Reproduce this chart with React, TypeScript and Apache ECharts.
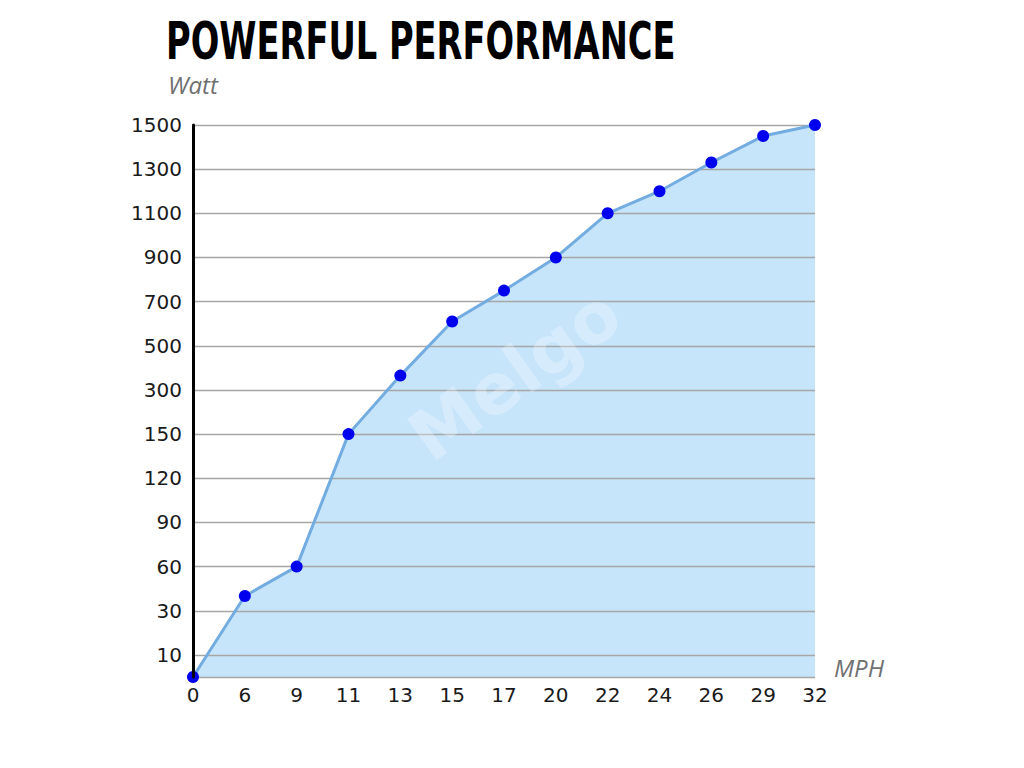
import React, { useEffect, useRef } from "react";
import * as echarts from "echarts";

const mphLabels = ["0", "6", "9", "11", "13", "15", "17", "20", "22", "24", "26", "29", "32"];
const wattValues = [0, 40, 60, 150, 365, 610, 750, 900, 1100, 1200, 1330, 1450, 1500];
const yTickLabels = [10, 30, 60, 90, 120, 150, 300, 500, 700, 900, 1100, 1300, 1500];

// piecewise-linear axis in half-steps: 0 at 0, labelled tick i at 2*i+1
function toAxisPos(w: number): number {
  if (w <= yTickLabels[0]) return (w / yTickLabels[0]) * 1;
  for (let i = 1; i < yTickLabels.length; i++) {
    if (w <= yTickLabels[i]) {
      return 2 * (i - 1) + 1 + (2 * (w - yTickLabels[i - 1])) / (yTickLabels[i] - yTickLabels[i - 1]);
    }
  }
  return 2 * (yTickLabels.length - 1) + 1;
}

export default function App() {
  const ref = useRef<HTMLDivElement>(null);
  useEffect(() => {
    if (!ref.current) return;
    const chart = echarts.init(ref.current, null, { renderer: "svg" });
    const gridLines = [{ yAxis: 0 }].concat(yTickLabels.map((_, i) => ({ yAxis: 2 * i + 1 })));
    const positions = wattValues.map((w) => toAxisPos(w));
    const option: any = {
      animation: false,
      backgroundColor: "#ffffff",
      grid: { left: 193, right: 209, top: 125, bottom: 91 },
      xAxis: {
        type: "category",
        boundaryGap: false,
        data: mphLabels,
        axisLine: { show: false },
        axisTick: { show: false },
        axisLabel: {
          margin: 8,
          color: "#1a1a1a",
          fontSize: 20,
          fontFamily: "DejaVu Sans",
        },
        splitLine: { show: false },
      },
      yAxis: {
        type: "value",
        min: 0,
        max: 2 * yTickLabels.length - 1,
        interval: 1,
        z: 6,
        axisLine: { show: true, lineStyle: { color: "#000000", width: 3 } },
        axisTick: { show: false },
        axisLabel: {
          margin: 11,
          color: "#1a1a1a",
          fontSize: 20,
          fontFamily: "DejaVu Sans",
          formatter: (v: number) => {
            const r = Math.round(v);
            if (Math.abs(v - r) > 1e-6 || r % 2 === 0) return "";
            const i = (r - 1) / 2;
            return i >= 0 && i < yTickLabels.length ? String(yTickLabels[i]) : "";
          },
        },
        splitLine: { show: false },
      },
      series: [
        {
          name: "area",
          type: "line",
          data: positions,
          symbol: "none",
          lineStyle: { width: 0, opacity: 0 },
          areaStyle: { color: "#c6e4fa", opacity: 1, origin: "start" },
          z: 1,
          silent: true,
          markLine: {
            silent: true,
            symbol: "none",
            label: { show: false },
            z: 2,
            lineStyle: { color: "#a6a6a6", width: 1.3, type: "solid" },
            data: gridLines,
          },
        },
        {
          name: "Watt",
          type: "line",
          data: positions,
          symbol: "circle",
          symbolSize: 12,
          itemStyle: { color: "#0000ee" },
          lineStyle: { color: "#72ace0", width: 3 },
          z: 3,
        },
      ],
      graphic: [
        {
          type: "text",
          left: 166,
          top: 15,
          scaleX: 0.72,
          style: {
            text: "POWERFUL PERFORMANCE",
            fontFamily: "DejaVu Sans Condensed",
            fontWeight: "bold",
            fontSize: 52,
            fill: "#000000",
          },
        },
        {
          type: "text",
          left: 168,
          top: 72,
          style: {
            text: "Watt",
            fontFamily: "Open Sans",
            fontStyle: "italic",
            fontSize: 24,
            fill: "#707070",
          },
        },
        {
          type: "text",
          left: 834,
          top: 655,
          style: {
            text: "MPH",
            fontFamily: "Open Sans",
            fontStyle: "italic",
            fontSize: 24,
            fill: "#707070",
          },
        },
        {
          type: "text",
          x: 515,
          y: 375,
          rotation: 0.62,
          z: 10,
          style: {
            text: "Melgo",
            fontFamily: "DejaVu Sans",
            fontWeight: "bold",
            fontSize: 70,
            fill: "rgba(255,255,255,0.28)",
            align: "center",
            verticalAlign: "middle",
          },
        },
      ],
    };
    chart.setOption(option);
    return () => chart.dispose();
  }, []);
  return (
    <div
      ref={ref}
      style={{ position: "fixed", left: 0, top: 0, width: 1024, height: 768 }}
    />
  );
}
